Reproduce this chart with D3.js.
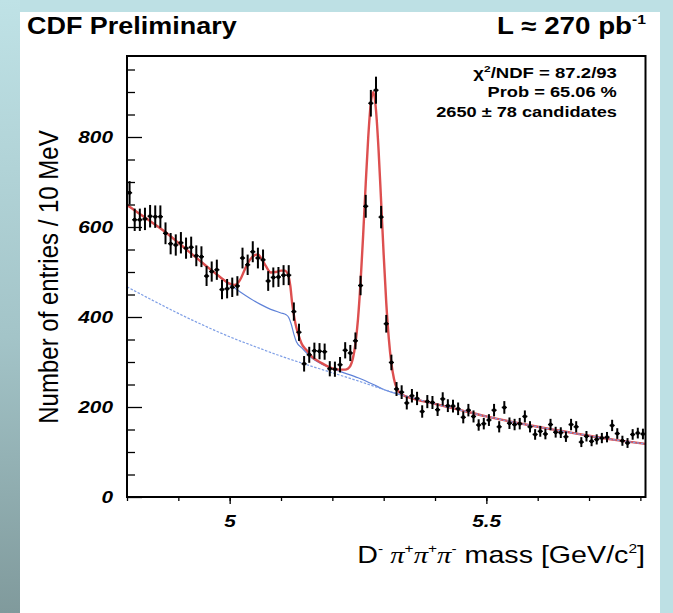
<!DOCTYPE html>
<html>
<head>
<meta charset="utf-8">
<script src="https://cdn.jsdelivr.net/npm/d3@7"></script>
<style>
  html, body { margin: 0; padding: 0; background: #fff; }
  svg { display: block; }
</style>
</head>
<body>
<svg id="chart" width="673" height="613"></svg>
<script>
// ---- histogram: D- pi+ pi+ pi- invariant mass, 10 MeV bins ----
const binCenters = [
  4.805, 4.815, 4.825, 4.835, 4.845, 4.855, 4.865, 4.875, 4.885, 4.895,
  4.905, 4.915, 4.925, 4.935, 4.945, 4.955, 4.965, 4.975, 4.985, 4.995,
  5.005, 5.015, 5.025, 5.035, 5.045, 5.055, 5.065, 5.075, 5.085, 5.095,
  5.105, 5.115, 5.125, 5.135, 5.145, 5.155, 5.165, 5.175, 5.185, 5.195,
  5.205, 5.215, 5.225, 5.235, 5.245, 5.255, 5.265, 5.275, 5.285, 5.295,
  5.305, 5.315, 5.325, 5.335, 5.345, 5.355, 5.365, 5.375, 5.385, 5.395,
  5.405, 5.415, 5.425, 5.435, 5.445, 5.455, 5.465, 5.475, 5.485, 5.495,
  5.505, 5.515, 5.525, 5.535, 5.545, 5.555, 5.565, 5.575, 5.585, 5.595,
  5.605, 5.615, 5.625, 5.635, 5.645, 5.655, 5.665, 5.675, 5.685, 5.695,
  5.705, 5.715, 5.725, 5.735, 5.745, 5.755, 5.765, 5.775, 5.785, 5.795,
  5.805
];
const binWidth = 0.01;
const entries = [
  676, 616, 616, 618, 624, 623, 623, 586, 563, 560,
  565, 553, 555, 536, 534, 491, 501, 505, 461, 463,
  466, 469, 531, 516, 545, 531, 527, 480, 488, 489,
  493, 493, 412, 366, 296, 316, 325, 324, 323, 285,
  284, 294, 326, 320, 347, 470, 646, 875, 904, 622,
  385, 299, 240, 233, 209, 225, 219, 190, 212, 210,
  194, 218, 203, 202, 196, 177, 193, 179, 160, 163,
  171, 193, 156, 199, 164, 161, 163, 179, 156, 139,
  146, 140, 161, 144, 143, 134, 161, 156, 122, 135,
  124, 128, 131, 133, 159, 141, 125, 120, 139, 142,
  140
];

// ---- total fit (signal + reflections + background) ----
const fitMass = [
  4.80, 4.82, 4.84, 4.86, 4.88, 4.90, 4.92, 4.94, 4.96, 4.98,
  5.00, 5.01, 5.02, 5.03, 5.04, 5.05, 5.055, 5.06, 5.07, 5.08,
  5.09, 5.10, 5.107, 5.113, 5.118, 5.122, 5.126, 5.13, 5.135, 5.14,
  5.15, 5.16, 5.18, 5.20, 5.215, 5.225, 5.23, 5.235, 5.24, 5.245,
  5.25, 5.255, 5.26, 5.265, 5.27, 5.275, 5.28, 5.285, 5.29, 5.295,
  5.30, 5.305, 5.31, 5.315, 5.32, 5.325, 5.33, 5.34, 5.35, 5.40,
  5.45, 5.50, 5.55, 5.60, 5.65, 5.70, 5.75, 5.81
];
const fitTotal = [
  649, 633, 617, 601, 584, 565, 546, 527, 508, 490,
  474, 471, 482, 507, 528, 538, 539, 533, 514, 499,
  500, 503, 503, 496, 470, 428, 398, 376, 357, 341,
  326, 312, 297, 286, 283, 283, 285, 291, 308, 341,
  396, 478, 582, 696, 801, 876, 900, 860, 772, 657,
  538, 432, 352, 297, 263, 243, 233, 225, 221, 207,
  193, 179, 167, 156, 146, 136, 127, 118
];

// ---- background incl. partially reconstructed B decays ----
const partialMass = [
  4.80, 4.82, 4.84, 4.86, 4.88, 4.90, 4.92, 4.94, 4.96, 4.98,
  5.00, 5.02, 5.04, 5.06, 5.08, 5.10, 5.11, 5.115, 5.12, 5.125,
  5.13, 5.14, 5.16, 5.18, 5.20, 5.22, 5.25, 5.28, 5.30, 5.35,
  5.40, 5.45, 5.50, 5.55, 5.60, 5.65, 5.70, 5.75, 5.81
];
const partialBkg = [
  649, 633, 617, 601, 584, 565, 546, 527, 508, 490,
  472, 456, 441, 428, 417, 409, 405, 399, 384, 362,
  345, 332, 309, 295, 285, 277, 265, 250, 239, 222,
  207, 193, 179, 167, 156, 146, 136, 127, 118
];

// ---- combinatorial background ----
const combMass = [
  4.80, 4.85, 4.90, 4.95, 5.00, 5.05, 5.10, 5.15, 5.20, 5.25,
  5.30, 5.35, 5.40, 5.45, 5.50, 5.55, 5.60, 5.65, 5.70, 5.75, 5.81
];
const combBkg = [
  467, 437, 408, 381, 356, 334, 313, 294, 276, 258,
  239, 222, 207, 193, 179, 167, 156, 146, 136, 127, 118
];

// ---- axes ----
const xDomain = [4.80, 5.81];
const yDomain = [0, 980];
const xTicks = [4.8, 4.9, 5.0, 5.1, 5.2, 5.3, 5.4, 5.5, 5.6, 5.7, 5.8];
const xLabelTicks = [5, 5.5];
const yMajorTicks = [0, 200, 400, 600, 800];
const yMinorTicks = [50, 100, 150, 250, 300, 350, 450, 500, 550, 650, 700, 750, 850, 900, 950];

const svg = d3.select("#chart");
const W = 673, H = 613;
const FONT = "'Liberation Sans', Arial, Helvetica, sans-serif";
const PI_FONT = "'Liberation Serif', 'Times New Roman', serif";

// slide backdrop
const defs = svg.append("defs");
const grad = defs.append("linearGradient").attr("id", "leftBand")
  .attr("x1", 0).attr("y1", 0).attr("x2", 0).attr("y2", 1);
grad.append("stop").attr("offset", "0%").attr("stop-color", "#bfe2e6");
grad.append("stop").attr("offset", "55%").attr("stop-color", "#a3c4c8");
grad.append("stop").attr("offset", "100%").attr("stop-color", "#809a9c");
svg.append("rect").attr("width", W).attr("height", H).attr("fill", "#bde0e4");
svg.append("rect").attr("x", 0).attr("y", 0).attr("width", 20).attr("height", H).attr("fill", "url(#leftBand)");
svg.append("rect").attr("x", 20).attr("y", 12).attr("width", 640).attr("height", H - 12).attr("fill", "#ffffff");

const plot = { left: 127, right: 645.5, top: 56, bottom: 497 };
const x = d3.scaleLinear().domain(xDomain).range([plot.left, plot.right]);
const y = d3.scaleLinear().domain(yDomain).range([plot.bottom, plot.top]);

// horizontal stretch of a text node about an anchor point
function stretch(node, factor, anchor) {
  const bb = node.getBBox();
  const ax = anchor === "start" ? bb.x : anchor === "end" ? bb.x + bb.width : bb.x + bb.width / 2;
  const prev = node.getAttribute("transform") || "";
  node.setAttribute("transform", `${prev} translate(${ax},0) scale(${factor},1) translate(${-ax},0)`);
}
function stretchTo(node, width, anchor) {
  const bb = node.getBBox();
  stretch(node, width / bb.width, anchor);
}

// fit curves
const lineGen = (xs, ys) => d3.line()
  .x((d, i) => x(xs[i])).y((d, i) => y(ys[i]))
  .curve(d3.curveMonotoneX)(ys);

const clip = defs.append("clipPath").attr("id", "plotClip");
clip.append("rect").attr("x", plot.left).attr("y", plot.top)
  .attr("width", plot.right - plot.left).attr("height", plot.bottom - plot.top);
const curves = svg.append("g").attr("clip-path", "url(#plotClip)");

curves.append("path").attr("d", lineGen(partialMass, partialBkg))
  .attr("fill", "none").attr("stroke", "#5f82d8").attr("stroke-width", 1.2);
curves.append("path").attr("d", lineGen(fitMass, fitTotal))
  .attr("fill", "none").attr("stroke", "#dd4f4f").attr("stroke-width", 2.4)
  .attr("stroke-linejoin", "round");
curves.append("path").attr("d", lineGen(combMass, combBkg))
  .attr("fill", "none").attr("stroke", "#7f9fe6").attr("stroke-width", 1.2)
  .attr("stroke-dasharray", "2.5,1.5");

// data points with Poisson errors
const pts = svg.append("g");
binCenters.forEach((m, i) => {
  const n = entries[i];
  const err = Math.sqrt(n);
  pts.append("line")
    .attr("x1", x(m)).attr("x2", x(m))
    .attr("y1", y(n - err)).attr("y2", y(n + err))
    .attr("stroke", "#000").attr("stroke-width", 2);
  pts.append("line")
    .attr("x1", x(m - binWidth / 2)).attr("x2", x(m + binWidth / 2))
    .attr("y1", y(n)).attr("y2", y(n))
    .attr("stroke", "#000").attr("stroke-width", 1.4);
  pts.append("circle").attr("cx", x(m)).attr("cy", y(n)).attr("r", 2).attr("fill", "#000");
});

// axes
const yMinorAxis = svg.append("g").attr("transform", `translate(${plot.left},0)`)
  .call(d3.axisLeft(y).tickValues(yMinorTicks).tickSizeInner(-8).tickSizeOuter(0).tickFormat(""));
const yMajorAxis = svg.append("g").attr("transform", `translate(${plot.left},0)`)
  .call(d3.axisLeft(y).tickValues(yMajorTicks).tickSizeInner(-15).tickSizeOuter(0)
    .tickPadding(14).tickFormat(d3.format("d")));
const xMinorAxis = svg.append("g").attr("transform", `translate(0,${plot.bottom})`)
  .call(d3.axisBottom(x).tickValues(xTicks).tickSizeInner(4).tickSizeOuter(0).tickFormat(""));
const xMajorAxis = svg.append("g").attr("transform", `translate(0,${plot.bottom})`)
  .call(d3.axisBottom(x).tickValues(xLabelTicks).tickSizeInner(7).tickSizeOuter(0)
    .tickPadding(12).tickFormat(d3.format("")));

[yMinorAxis, yMajorAxis, xMinorAxis, xMajorAxis].forEach(g => {
  g.select(".domain").remove();
  g.selectAll(".tick line").attr("stroke", "#000").attr("stroke-width", 1.3);
});
yMajorAxis.selectAll(".tick text")
  .attr("font-family", FONT).attr("font-size", 16).attr("font-weight", "bold")
  .attr("font-style", "italic").attr("fill", "#000")
  .each(function () { stretch(this, 1.3, "end"); });
xMajorAxis.selectAll(".tick text")
  .attr("font-family", FONT).attr("font-size", 16).attr("font-weight", "bold")
  .attr("font-style", "italic").attr("fill", "#000")
  .each(function () { stretch(this, 1.3, "middle"); });

// frame
svg.append("rect").attr("x", plot.left).attr("y", plot.top)
  .attr("width", plot.right - plot.left).attr("height", plot.bottom - plot.top)
  .attr("fill", "none").attr("stroke", "#000").attr("stroke-width", 2);

// text with raised pieces: each part is [string, raised?, fontFamily?, italic?]
function richText(t, parts, supSize, rise) {
  let up = false;
  parts.forEach(([txt, sup, fam, ital]) => {
    const sp = t.append("tspan").text(txt);
    if (sup) {
      sp.attr("font-size", supSize);
      if (!up) { sp.attr("dy", -rise); up = true; }
    } else if (up) { sp.attr("dy", rise); up = false; }
    if (fam) sp.attr("font-family", fam);
    if (ital) sp.attr("font-style", "italic");
  });
}

// headline texts
const head = svg.append("text").attr("x", 27).attr("y", 34)
  .attr("font-family", FONT).attr("font-size", 23).attr("font-weight", "bold").attr("fill", "#000")
  .text("CDF Preliminary");
stretchTo(head.node(), 210, "start");

const lumi = svg.append("text").attr("x", 646).attr("y", 34).attr("text-anchor", "end")
  .attr("font-family", FONT).attr("font-size", 23).attr("font-weight", "bold").attr("fill", "#000");
richText(lumi, [["L \u2248 270 pb", false], ["-1", true]], 13, 10);
stretchTo(lumi.node(), 149, "end");

// fit summary
const stats = [
  { parts: [["\u03c7", false], ["2", true], ["/NDF = 87.2/93", false]], baseline: 78, width: 144 },
  { parts: [["Prob = 65.06 %", false]], baseline: 97, width: 130 },
  { parts: [["2650 \u00b1 78 candidates", false]], baseline: 117, width: 181 }
];
stats.forEach(s => {
  const t = svg.append("text").attr("x", 617).attr("y", s.baseline).attr("text-anchor", "end")
    .attr("font-family", FONT).attr("font-size", 14).attr("font-weight", "bold").attr("fill", "#000");
  richText(t, s.parts, 9, 6);
  stretchTo(t.node(), s.width, "end");
});

// axis titles
svg.append("text")
  .attr("transform", "translate(58,277) rotate(-90) scale(1,1.15)")
  .attr("text-anchor", "middle")
  .attr("font-family", FONT).attr("font-size", 24).attr("fill", "#000")
  .text("Number of entries / 10 MeV");

const xTitle = svg.append("text").attr("x", 645).attr("y", 563).attr("text-anchor", "end")
  .attr("font-family", FONT).attr("font-size", 24).attr("fill", "#000")
  .style("white-space", "pre");
richText(xTitle, [
  ["D", false], ["-", true],
  [" \u03c0", false, PI_FONT, true], ["+", true],
  ["\u03c0", false, PI_FONT, true], ["+", true],
  ["\u03c0", false, PI_FONT, true], ["-", true],
  [" mass [GeV/c", false], ["2", true], ["]", false]
], 13, 10);
stretchTo(xTitle.node(), 288, "end");
</script>
</body>
</html>
